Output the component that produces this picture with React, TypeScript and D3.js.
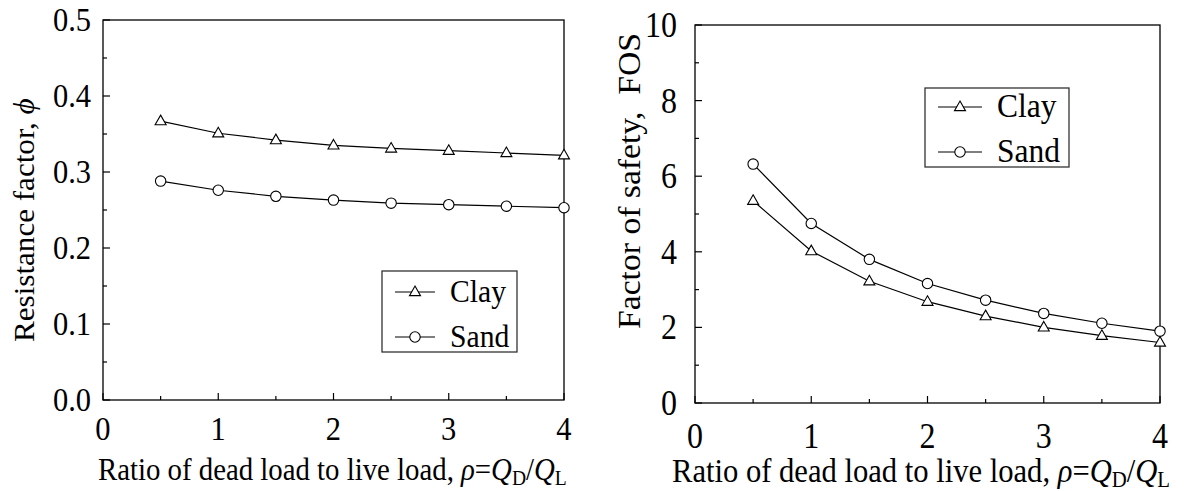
import React from 'react';
import * as d3 from 'd3';

const ratios = [0.5, 1, 1.5, 2, 2.5, 3, 3.5, 4];
const phiClay = [0.367, 0.351, 0.342, 0.335, 0.331, 0.328, 0.325, 0.322];
const phiSand = [0.288, 0.276, 0.268, 0.263, 0.259, 0.257, 0.255, 0.253];
const fosClay = [5.35, 4.02, 3.22, 2.68, 2.3, 2.0, 1.78, 1.6];
const fosSand = [6.32, 4.75, 3.8, 3.16, 2.72, 2.37, 2.11, 1.9];

const xTicks = [0, 1, 2, 3, 4];
const xMinor = [0.5, 1.5, 2.5, 3.5];
const phiTicks = [0, 0.1, 0.2, 0.3, 0.4, 0.5];
const phiMinor = [0.05, 0.15, 0.25, 0.35, 0.45];
const fosTicks = [0, 2, 4, 6, 8, 10];
const fosMinor = [1, 3, 5, 7, 9];

const FONT = "'Liberation Serif', 'Times New Roman', Times, 'DejaVu Serif', serif";

const Triangle = ({ x, y, s = 11 }: { x: number; y: number; s?: number }) => {
  const h = s * 0.87;
  return (
    <path
      d={`M${x},${y - h * 0.62}L${x + s / 2},${y + h * 0.38}L${x - s / 2},${y + h * 0.38}Z`}
      fill="white"
      stroke="black"
      strokeWidth={1.1}
    />
  );
};

const Circle = ({ x, y }: { x: number; y: number }) => (
  <circle cx={x} cy={y} r={5.2} fill="white" stroke="black" strokeWidth={1.1} />
);

// text that is stretched vertically like the source figure
const T = ({ x, y, sy, rot, children, ...rest }: any) => (
  <g transform={`translate(${x},${y}) scale(1,${sy})${rot ? ' rotate(-90)' : ''}`}>
    <text x={0} y={0} {...rest}>{children}</text>
  </g>
);

interface PanelProps {
  left: number;
  right: number;
  top: number;
  bottom: number;
  yDomain: [number, number];
  yTicks: number[];
  yMinor: number[];
  yFormat: (v: number) => string;
  clay: number[];
  sand: number[];
  fontSize: number;
  tickFont: number;
  sy: number;
  yLabel: React.ReactNode;
  yLabelX: number;
  yLabelY: number;
  xLabelX: number;
  xLabelY: number;
  tickLabelY: number;
  yTickGap: number;
  legend: { x0: number; x1: number; y0: number; y1: number; rowClay: number; rowSand: number; lineX0: number; lineX1: number; textX: number };
}

const Panel = (p: PanelProps) => {
  const x = d3.scaleLinear().domain([0, 4]).range([p.left, p.right]);
  const y = d3.scaleLinear().domain(p.yDomain).range([p.bottom, p.top]);
  const line = d3.line<number>().x((_, i) => x(ratios[i])).y(d => y(d));
  const lg = p.legend;
  const fs = p.fontSize;
  return (
    <g style={{ fontFamily: FONT }} fill="black">
      <rect x={p.left} y={p.top} width={p.right - p.left} height={p.bottom - p.top} fill="none" stroke="black" strokeWidth={1.3} />
      {xTicks.map(t => (
        <g key={'xt' + t}>
          <line x1={x(t)} x2={x(t)} y1={p.bottom} y2={p.bottom - 7} stroke="black" strokeWidth={1.2} />
          <T x={x(t)} y={p.tickLabelY} sy={p.sy} textAnchor="middle" fontSize={p.tickFont}>{t}</T>
        </g>
      ))}
      {xMinor.map(t => (
        <line key={'xm' + t} x1={x(t)} x2={x(t)} y1={p.bottom} y2={p.bottom - 4} stroke="black" strokeWidth={1.2} />
      ))}
      {p.yTicks.map(t => (
        <g key={'yt' + t}>
          <line x1={p.left} x2={p.left + 7} y1={y(t)} y2={y(t)} stroke="black" strokeWidth={1.2} />
          <T x={p.left - p.yTickGap} y={y(t)} sy={p.sy} dy="0.34em" textAnchor="end" fontSize={p.tickFont}>{p.yFormat(t)}</T>
        </g>
      ))}
      {p.yMinor.map(t => (
        <line key={'ym' + t} x1={p.left} x2={p.left + 4} y1={y(t)} y2={y(t)} stroke="black" strokeWidth={1.2} />
      ))}
      <path d={line(p.clay) || ''} fill="none" stroke="black" strokeWidth={1.2} />
      <path d={line(p.sand) || ''} fill="none" stroke="black" strokeWidth={1.2} />
      {p.clay.map((v, i) => <Triangle key={'c' + i} x={x(ratios[i])} y={y(v)} />)}
      {p.sand.map((v, i) => <Circle key={'s' + i} x={x(ratios[i])} y={y(v)} />)}

      <rect x={lg.x0} y={lg.y0} width={lg.x1 - lg.x0} height={lg.y1 - lg.y0} fill="white" stroke="#333" strokeWidth={1.3} />
      <line x1={lg.lineX0} x2={lg.lineX1} y1={lg.rowClay} y2={lg.rowClay} stroke="black" strokeWidth={1.2} />
      <Triangle x={(lg.lineX0 + lg.lineX1) / 2} y={lg.rowClay} />
      <T x={lg.textX} y={lg.rowClay + 10} sy={p.sy} fontSize={fs * 1.03}>Clay</T>
      <line x1={lg.lineX0} x2={lg.lineX1} y1={lg.rowSand} y2={lg.rowSand} stroke="black" strokeWidth={1.2} />
      <Circle x={(lg.lineX0 + lg.lineX1) / 2} y={lg.rowSand} />
      <T x={lg.textX} y={lg.rowSand + 10} sy={p.sy} fontSize={fs * 1.03}>Sand</T>

      <T x={p.yLabelX} y={p.yLabelY} sy={p.sy} rot fontSize={fs} style={{ whiteSpace: 'pre' }}>
        {p.yLabel}
      </T>
      <T x={p.xLabelX} y={p.xLabelY} sy={p.sy} fontSize={fs}>
        Ratio of dead load to live load, <tspan fontStyle="italic">ρ</tspan>=<tspan fontStyle="italic">Q</tspan>
        <tspan fontSize={fs * 0.68} dy="0.22em">D</tspan>
        <tspan dy="-0.15em">/</tspan><tspan fontStyle="italic">Q</tspan>
        <tspan fontSize={fs * 0.68} dy="0.22em">L</tspan>
      </T>
    </g>
  );
};

export default function App() {
  return (
    <svg width={1187} height={491} style={{ display: 'block', position: 'absolute', left: 0, top: 0, background: 'white' }}>
      <rect width={1187} height={491} fill="white" />
      <Panel
        left={103} right={564} top={20} bottom={400}
        yDomain={[0, 0.5]} yTicks={phiTicks} yMinor={phiMinor} yFormat={d3.format('.1f')}
        clay={phiClay} sand={phiSand} fontSize={28.8} tickFont={30.5} sy={1.08}
        yLabel={<>Resistance factor, <tspan fontStyle="italic">ϕ</tspan></>}
        yLabelX={34} yLabelY={342}
        xLabelX={98} xLabelY={480} tickLabelY={440} yTickGap={12}
        legend={{ x0: 382, x1: 517, y0: 271, y1: 352, rowClay: 292, rowSand: 337, lineX0: 395, lineX1: 435, textX: 450 }}
      />
      <Panel
        left={695} right={1160} top={25} bottom={403}
        yDomain={[0, 10]} yTicks={fosTicks} yMinor={fosMinor} yFormat={d3.format('d')}
        clay={fosClay} sand={fosSand} fontSize={30.6} tickFont={32} sy={1.1}
        yLabel={'Factor of safety,  FOS'}
        yLabelX={640} yLabelY={329}
        xLabelX={672} xLabelY={482} tickLabelY={448} yTickGap={18}
        legend={{ x0: 925, x1: 1069, y0: 88, y1: 167, rowClay: 107, rowSand: 152, lineX0: 938, lineX1: 982, textX: 997 }}
      />
    </svg>
  );
}
